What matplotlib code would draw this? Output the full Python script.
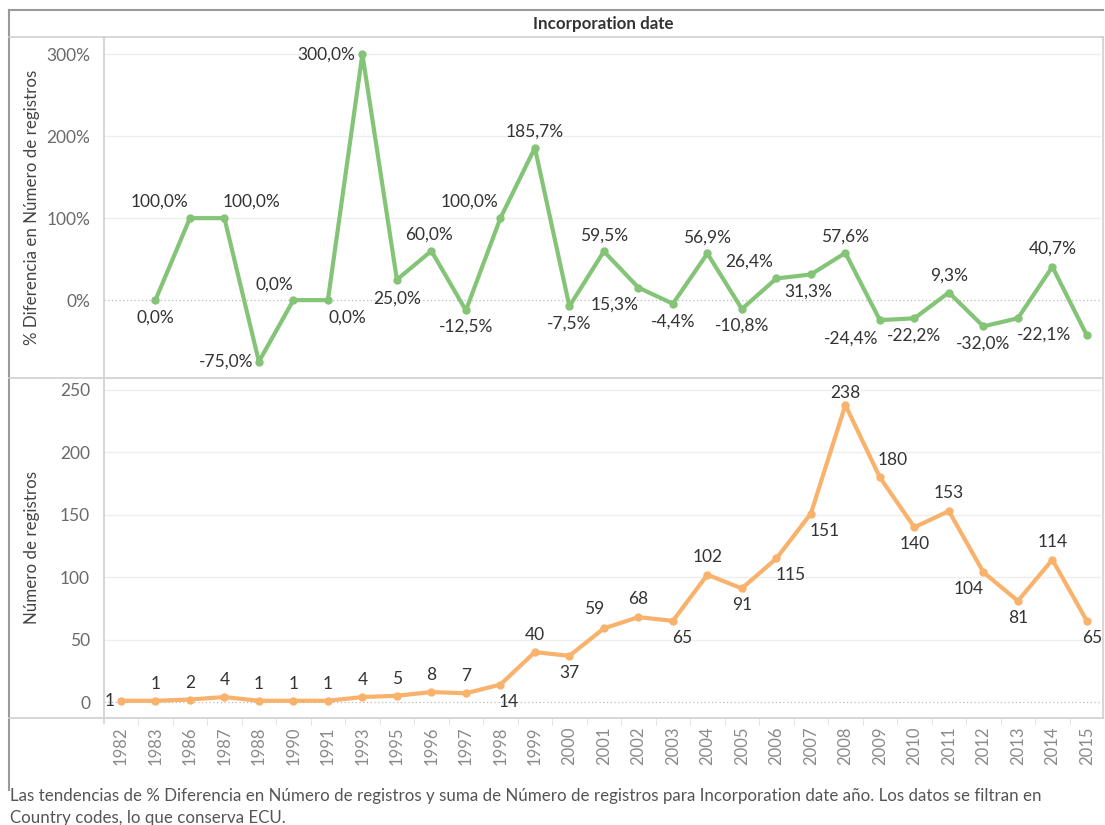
import matplotlib
matplotlib.use("Agg")
import matplotlib.pyplot as plt
from matplotlib.lines import Line2D

plt.rcParams['font.family'] = ['Lato', 'DejaVu Sans']

# data
years = ['1982', '1983', '1986', '1987', '1988', '1990', '1991', '1993', '1995', '1996',
         '1997', '1998', '1999', '2000', '2001', '2002', '2003', '2004', '2005', '2006',
         '2007', '2008', '2009', '2010', '2011', '2012', '2013', '2014', '2015']
counts = [1, 1, 2, 4, 1, 1, 1, 4, 5, 8, 7, 14, 40, 37, 59, 68, 65, 102, 91, 115,
          151, 238, 180, 140, 153, 104, 81, 114, 65]
pct_diff = [None, 0.0, 100.0, 100.0, -75.0, 0.0, 0.0, 300.0, 25.0, 60.0, -12.5, 100.0,
            185.7, -7.5, 59.5, 15.3, -4.4, 56.9, -10.8, 26.4, 31.3, 57.6, -24.4, -22.2,
            9.3, -32.0, -22.1, 40.7, -43.0]

# label placement (pixel offsets from the point), None = no label
pct_offsets = [None, (0, -17), (-30, 17), (27, 17), (-33, 0), (-19, 16), (19, -17),
               (-36, 0), (0, -19), (-2, 16), (0, -16), (-31, 17), (0, 16), (0, -17),
               (0, 16), (-24, -17), (0, -18), (0, 16), (0, -17), (-27, 17), (-3, -17),
               (0, 16), (-29, -18), (0, -17), (0, 17), (0, -17), (26, -16), (0, 18), None]
cnt_offsets = [(-11, 0)] + [(0, 17)] * 10 + [(8, -17), (0, 17), (0, -17), (-10, 19),
               (0, 18), (9, -17), (0, 18), (0, -17), (14, -17), (14, -17), (0, 12),
               (13, 17), (0, -17), (0, 18), (-15, -17), (0, -17), (0, 18), (5, -17)]

green = '#84C476'
orange = '#F8B26C'
W, H = 1105, 825

fig = plt.figure(figsize=(W / 100, H / 100), dpi=100)
ax1 = fig.add_axes([104 / W, 1 - 378 / H, 997 / W, 341 / H])
ax2 = fig.add_axes([104 / W, 1 - 718 / H, 997 / W, 340 / H])

x = list(range(len(years)))

# top panel: % difference
px = [i for i, v in zip(x, pct_diff) if v is not None]
py = [v for v in pct_diff if v is not None]
ax1.plot(px, py, color=green, lw=3, marker='o', ms=5, solid_capstyle='round')
for i, v, off in zip(x, pct_diff, pct_offsets):
    if v is None or off is None:
        continue
    ax1.annotate(f"{v:.1f}%".replace('.', ','), (i, v), xytext=off,
                 textcoords='offset pixels', ha='center', va='center',
                 fontsize=12.5, color='#333333')
ax1.set_ylim(-95, 321)
ax1.set_yticks([0, 100, 200, 300])
ax1.set_yticklabels(['0%', '100%', '200%', '300%'])
ax1.set_ylabel('% Diferencia en Número de registros', fontsize=12.2, color='#444444')

# bottom panel: counts
ax2.plot(x, counts, color=orange, lw=3, marker='o', ms=5, solid_capstyle='round')
for i, v, off in zip(x, counts, cnt_offsets):
    ax2.annotate(str(v), (i, v), xytext=off, textcoords='offset pixels',
                 ha='center', va='center', fontsize=12.5, color='#333333',
                 annotation_clip=False)
ax2.set_ylim(-12.8, 259.6)
ax2.set_yticks([0, 50, 100, 150, 200, 250])
ax2.set_ylabel('Número de registros', fontsize=12.2, color='#444444')
ax2.set_xticks(x)
ax2.set_xticklabels(years, rotation=90, fontsize=12, color='#8a8a8a')
ax2.set_xticks([i + 0.5 for i in x[:-1]], minor=True)
ax2.tick_params(axis='x', which='major', length=0, pad=6)
ax2.tick_params(axis='x', which='minor', length=5, color='#dddddd', direction='out')

for ax in (ax1, ax2):
    ax.set_xlim(-0.49, 28.41)
    for s in ax.spines.values():
        s.set_visible(False)
    ax.tick_params(axis='y', length=0, pad=10, labelsize=12.5, labelcolor='#6a6a6a')
    for t in ax.get_yticks():
        if t == 0:
            ax.axhline(t, color='#bbbbbb', lw=0.9, ls=(0, (1, 2)), zorder=0)
        else:
            ax.axhline(t, color='#eeeeee', lw=1, zorder=0)
    ax.yaxis.set_label_coords(-64 / 997, 0.5)
ax1.set_xticks([])


def fline(x0, y0, x1, y1, color='#cfcfcf', lw=1.2):
    fig.add_artist(Line2D([x0 / W, x1 / W], [1 - y0 / H, 1 - y1 / H],
                          color=color, lw=lw, transform=fig.transFigure))


# frame lines like the dashboard panes
fline(9, 10, 1103, 10, color='#9a9a9a', lw=1.5)
fline(9, 10, 9, 790, color='#9a9a9a', lw=1.5)
fline(9, 37, 1103, 37)
fline(104, 37, 104, 723)
fline(9, 378, 1103, 378)
fline(9, 718, 1103, 718)
fline(1103, 37, 1103, 718)

fig.text(603 / W, 1 - 24 / H, 'Incorporation date', ha='center', va='center',
         fontsize=12.2, color='#333333', fontweight='bold')

fig.text(10 / W, 1 - 796 / H,
         'Las tendencias de % Diferencia en Número de registros y suma de Número de '
         'registros para Incorporation date año. Los datos se filtran en',
         ha='left', va='center', fontsize=12.2, color='#555555')
fig.text(10 / W, 1 - 818 / H, 'Country codes, lo que conserva ECU.',
         ha='left', va='center', fontsize=12.2, color='#555555')

fig.savefig('out.png', dpi=100)
